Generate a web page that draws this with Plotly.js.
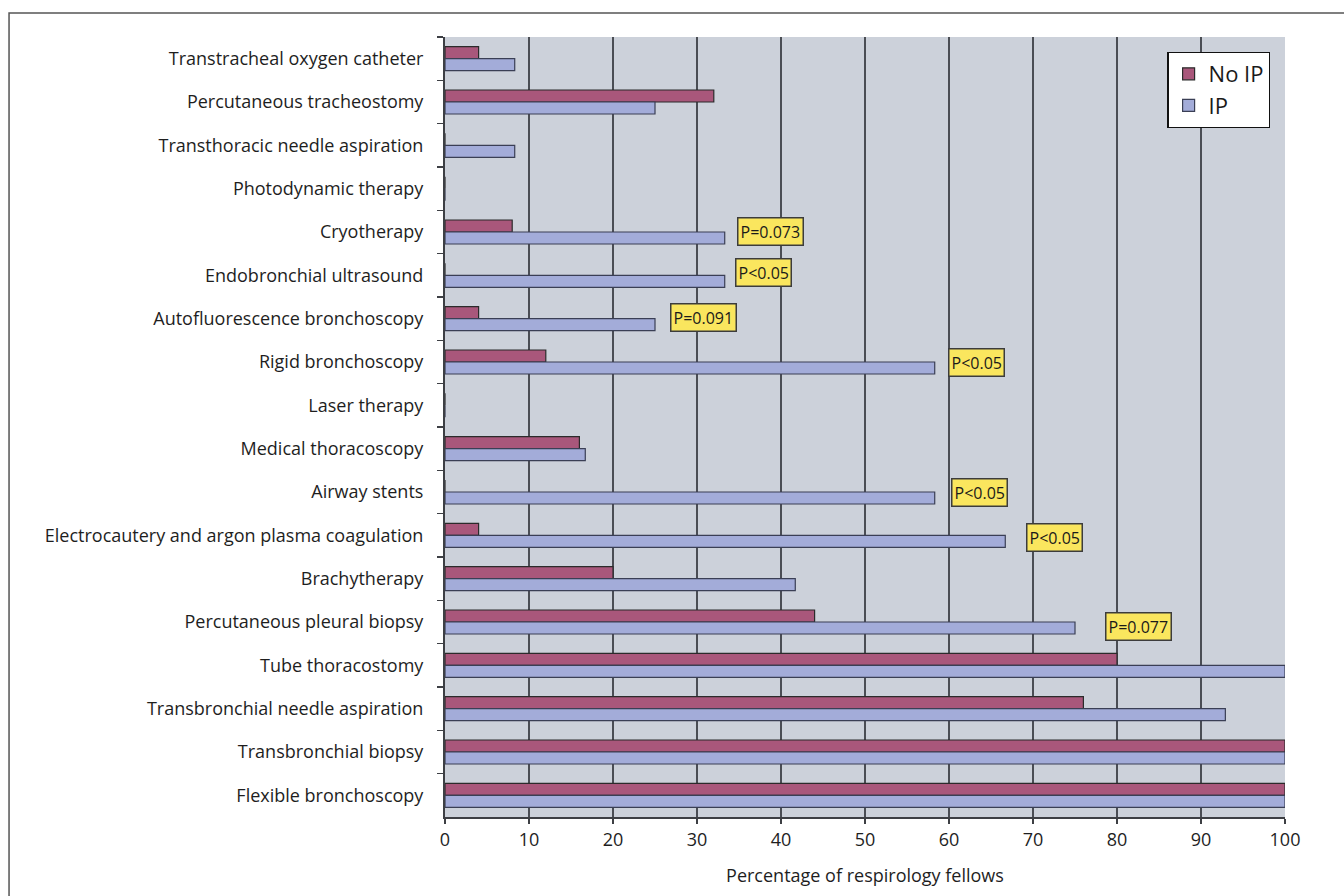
<!DOCTYPE html>
<html>
<head>
<meta charset="utf-8">
<script src="https://cdn.plot.ly/plotly-3.0.1.min.js"></script>
<style>html,body{margin:0;padding:0;background:#fff;}#chart{width:1344px;height:896px;}</style>
</head>
<body>
<div id="chart"></div>
<script>
// Categories listed top to bottom
const categories = [
  "Transtracheal oxygen catheter",
  "Percutaneous tracheostomy",
  "Transthoracic needle aspiration",
  "Photodynamic therapy",
  "Cryotherapy",
  "Endobronchial ultrasound",
  "Autofluorescence bronchoscopy",
  "Rigid bronchoscopy",
  "Laser therapy",
  "Medical thoracoscopy",
  "Airway stents",
  "Electrocautery and argon plasma coagulation",
  "Brachytherapy",
  "Percutaneous pleural biopsy",
  "Tube thoracostomy",
  "Transbronchial needle aspiration",
  "Transbronchial biopsy",
  "Flexible bronchoscopy"
];
const noIP = [4, 32, 0, 0, 8, 0, 4, 12, 0, 16, 0, 4, 20, 44, 80, 76, 100, 100];
const IP   = [8.3, 25, 8.3, 0, 33.3, 33.3, 25, 58.3, 0, 16.7, 58.3, 66.7, 41.7, 75, 100, 92.9, 100, 100];
// P-value labels: category and text
const pCategories = ["Cryotherapy", "Endobronchial ultrasound", "Autofluorescence bronchoscopy",
  "Rigid bronchoscopy", "Airway stents", "Electrocautery and argon plasma coagulation",
  "Percutaneous pleural biopsy"];
const pLabels = ["P=0.073", "P<0.05", "P=0.091", "P<0.05", "P<0.05", "P<0.05", "P=0.077"];
const xTicks = [0, 10, 20, 30, 40, 50, 60, 70, 80, 90, 100];

// layout tuning for the label boxes (pixel shifts from bar end)
const pShiftX = [12, 10, 15, 13, 16, 21, 30];
const pShiftY = [1, 3, 1, 0, 0, -2, -4];

const FONT = "Open Sans, Liberation Sans, sans-serif";
const traces = [
  {type: "bar", orientation: "h", name: "No IP", y: categories, x: noIP,
   marker: {color: "#a9577b", line: {color: "#2b2b2b", width: 1.2}}},
  {type: "bar", orientation: "h", name: "IP", y: categories, x: IP,
   marker: {color: "#a3acd9", line: {color: "#3a3f55", width: 1.2}}}
];

const annotations = pCategories.map((c, k) => {
  const i = categories.indexOf(c);
  return {
    x: IP[i], y: c, xref: "x", yref: "y", xanchor: "left", yanchor: "middle",
    xshift: pShiftX[k], yshift: pShiftY[k],
    text: pLabels[k], showarrow: false,
    font: {family: FONT, size: 16, color: "#1a1a1a"},
    bgcolor: "#fae65e", bordercolor: "#3c3c3c", borderwidth: 1.5, borderpad: 2
  };
});

const layout = {
  width: 1344, height: 896,
  margin: {l: 445, r: 59, t: 37, b: 79, pad: 0},
  paper_bgcolor: "#ffffff",
  plot_bgcolor: "#ccd1da",
  barmode: "group",
  bargap: 0.446,
  bargroupgap: 0,
  showlegend: true,
  legend: {
    x: 0.86, y: 0.981, xanchor: "left", yanchor: "top",
    bgcolor: "#ffffff", bordercolor: "#111111", borderwidth: 1.2,
    font: {family: FONT, size: 22, color: "#1a1a1a"},
    traceorder: "normal", tracegroupgap: 0, itemwidth: 30
  },
  xaxis: {
    range: [0, 100], tickvals: xTicks, ticktext: xTicks.map(String),
    showgrid: true, gridcolor: "#4a4d54", gridwidth: 2,
    zeroline: false, showline: true, linecolor: "#3d3f44", linewidth: 2,
    ticks: "outside", ticklen: 5, tickcolor: "#3d3f44", tickwidth: 2,
    tickfont: {family: FONT, size: 18, color: "#1e1e1e"},
    title: {text: "Percentage of respirology fellows", standoff: 20,
            font: {family: FONT, size: 18, color: "#1e1e1e"}},
    fixedrange: true
  },
  yaxis: {
    type: "category", categoryorder: "array", categoryarray: categories,
    autorange: "reversed",
    showgrid: false, zeroline: false,
    showline: true, linecolor: "#3d3f44", linewidth: 2,
    ticks: "outside", tickson: "boundaries", ticklen: 6, tickcolor: "#3d3f44", tickwidth: 1.5,
    ticklabelstandoff: 16,
    tickfont: {family: FONT, size: 18, color: "#1e1e1e"},
    fixedrange: true
  },
  annotations: annotations,
  shapes: [{
    type: "rect", xref: "paper", yref: "paper",
    x0: -0.519, x1: 1.08, y0: -0.11, y1: 1.0308,
    line: {color: "#555555", width: 1.5}, fillcolor: "rgba(0,0,0,0)", layer: "below"
  }]
};

Plotly.newPlot("chart", traces, layout, {displayModeBar: false, staticPlot: true});
</script>
</body>
</html>
